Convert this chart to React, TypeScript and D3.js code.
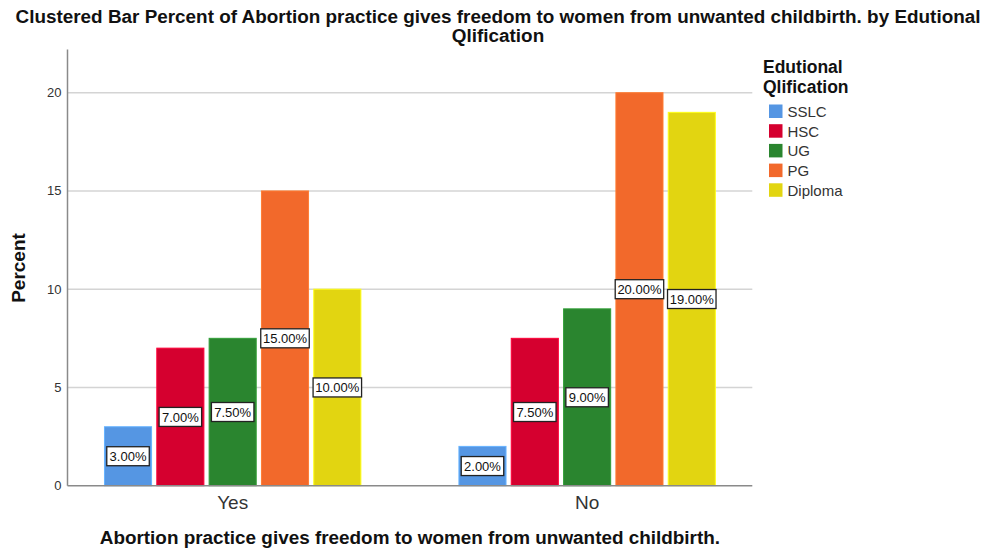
import React from "react";
import * as d3 from "d3";

const categories = ["Yes", "No"];
const series = ["SSLC", "HSC", "UG", "PG", "Diploma"];
const colors = ["#5596E3", "#D5002F", "#2A852F", "#F2692B", "#E2D511"];
const valuesYes = [3.0, 7.0, 7.5, 15.0, 10.0];
const valuesNo = [2.0, 7.5, 9.0, 20.0, 19.0];
const yTicks = [0, 5, 10, 15, 20];
const titleLines = [
  "Clustered Bar Percent of Abortion practice gives freedom to women from unwanted childbirth. by Edutional",
  "Qlification",
];
const xTitle = "Abortion practice gives freedom to women from unwanted childbirth.";
const yTitle = "Percent";
const legendTitle = ["Edutional", "Qlification"];

const W = 987;
const H = 551;
const FONT = "'Liberation Sans', Arial, sans-serif";

export default function App() {
  const left = 67.5;
  const right = 752.3;
  const x0 = d3.scalePoint<string>().domain(categories).range([left, right]).padding(0.466);
  const x1 = d3.scaleBand<string>().domain(series).range([-128.2, 128.2]).paddingInner(0.1).paddingOuter(0);
  const y = d3.scaleLinear().domain([0, 20]).range([485.7, 92.7]);
  const yTop = y(22.2);
  const data = [valuesYes, valuesNo];
  const fmt = (v: number) => v.toFixed(2) + "%";

  return (
    <svg width={W} height={H} style={{ position: "absolute", left: 0, top: 0, background: "#fff" }}>
      <rect x={0} y={0} width={W} height={H} fill="#fff" />
      <text textAnchor="middle" fontFamily={FONT} fontWeight="bold" fontSize={18.9} fill="#111">
        {titleLines.map((t, i) => (
          <tspan key={i} x={498} y={23 + i * 19}>
            {t}
          </tspan>
        ))}
      </text>
      {yTicks.filter((t) => t > 0).map((t) => (
        <line key={t} x1={left} x2={right} y1={y(t)} y2={y(t)} stroke="#d4d4d4" strokeWidth={1.5} />
      ))}
      {yTicks.map((t) => (
        <text key={t} x={61.5} y={y(t) + 4.5} textAnchor="end" fontFamily={FONT} fontSize={13} fill="#333">
          {t}
        </text>
      ))}
      {categories.map((c, ci) => (
        <g key={c} transform={`translate(${x0(c)},0)`}>
          {series.map((s, si) => {
            const v = data[ci][si];
            return (
              <rect
                key={s}
                x={x1(s)!}
                y={y(v)}
                width={x1.bandwidth()}
                height={y(0) - y(v)}
                fill={colors[si]}
                stroke={d3.color(colors[si])!.brighter(0.5).toString()}
                strokeWidth={1}
              />
            );
          })}
        </g>
      ))}
      <line x1={left} x2={left} y1={yTop} y2={y(0)} stroke="#8a8a8a" strokeWidth={1.5} />
      <line x1={left} x2={right} y1={y(0)} y2={y(0)} stroke="#8a8a8a" strokeWidth={1.5} />
      {categories.map((c, ci) => (
        <g key={c + "lab"} transform={`translate(${x0(c)},0)`}>
          {series.map((s, si) => {
            const v = data[ci][si];
            const label = fmt(v);
            const cx = x1(s)! + x1.bandwidth() / 2;
            const cy = (y(v) + y(0)) / 2;
            const tw = label.length >= 6 ? 43 : 37;
            const bw = tw + 5.5;
            return (
              <g key={s}>
                <rect x={cx - bw / 2} y={cy - 9.5} width={bw} height={19} fill="#fff" stroke="#222" strokeWidth={1.3} />
                <text x={cx} y={cy + 4.6} textAnchor="middle" fontFamily={FONT} fontSize={13} fill="#111">
                  {label}
                </text>
              </g>
            );
          })}
        </g>
      ))}
      {categories.map((c) => (
        <text key={c + "t"} x={x0(c)} y={509} textAnchor="middle" fontFamily={FONT} fontSize={19} fill="#333">
          {c}
        </text>
      ))}
      <text x={(left + right) / 2} y={544} textAnchor="middle" fontFamily={FONT} fontWeight="bold" fontSize={18.9} fill="#111">
        {xTitle}
      </text>
      <text transform={`translate(25,268) rotate(-90)`} textAnchor="middle" fontFamily={FONT} fontWeight="bold" fontSize={19} fill="#111">
        {yTitle}
      </text>
      {legendTitle.map((t, i) => (
        <text key={t} x={763} y={73 + i * 20} fontFamily={FONT} fontWeight="bold" fontSize={17.5} fill="#111">
          {t}
        </text>
      ))}
      {series.map((s, i) => (
        <g key={s} transform={`translate(769,${104.5 + i * 19.7})`}>
          <rect x={0} y={0} width={13.5} height={13.5} fill={colors[i]} />
          <text x={18.5} y={12.5} fontFamily={FONT} fontSize={15} fill="#333">
            {s}
          </text>
        </g>
      ))}
    </svg>
  );
}
